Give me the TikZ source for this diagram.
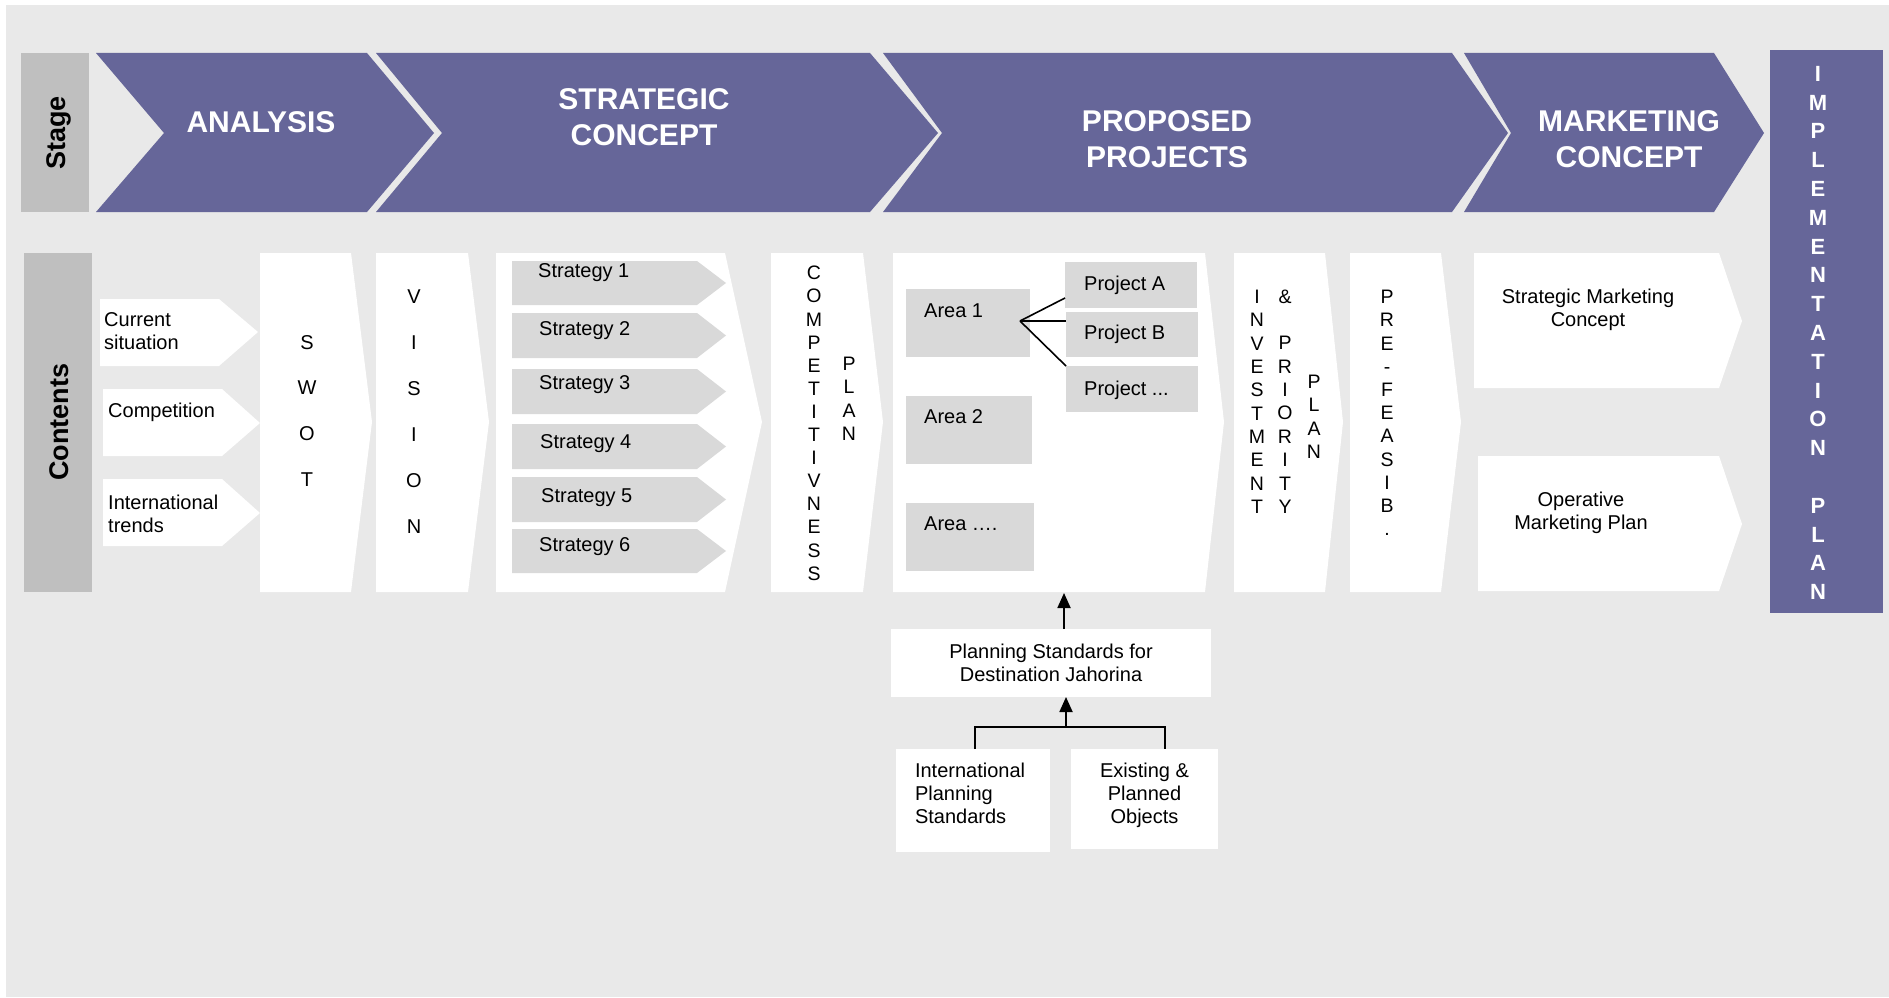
\documentclass[tikz,border=0pt]{standalone}
\usepackage{fontspec}
\setmainfont{Liberation Sans}
\usetikzlibrary{arrows.meta}
\definecolor{bggray}{RGB}{233,233,233}
\definecolor{hdgray}{RGB}{191,191,191}
\definecolor{purp}{RGB}{102,102,153}
\definecolor{ltgray}{RGB}{217,217,217}
\newcommand{\myfs}[2]{\fontsize{#1}{#2}\selectfont}
\begin{document}
\begin{tikzpicture}[x=1pt,y=-1pt,
  box/.style={inner sep=0pt, outer sep=0pt, anchor=north west},
  gbox/.style={box, fill=ltgray},
  wbox/.style={box, fill=white, font=\myfs{20}{23}},
  txt/.style={inner sep=0pt, font=\myfs{20}{23}, align=left, anchor=west},
  ctxt/.style={inner sep=0pt, font=\myfs{20}{23}, align=center},
  title/.style={inner sep=0pt, text=white, font=\bfseries\myfs{30}{36}, align=center},
  col/.style={inner sep=0pt, anchor=north, align=center},
  side/.style={inner sep=0pt, rotate=90, font=\bfseries\myfs{27}{30}},
  conn/.style={line width=1.6pt},
  arr/.style={line width=1.8pt, -{Triangle[length=15pt,width=13pt]}}
]
\useasboundingbox (0,0) rectangle (1889,998);
\fill[white] (0,0) rectangle (1889,998);
\fill[bggray] (6,5) rectangle (1889,997);

% ---- Stage row ----
\fill[hdgray] (21,53) rectangle (89,212);
\node[side] (stage) at (58.5,133) {Stage};
\fill[purp] (96,53) -- (367,53) -- (434,133) -- (367,212) -- (96,212) -- (164,133) -- cycle;
\fill[purp] (376,53) -- (870,53) -- (938,133) -- (870,212) -- (376,212) -- (442,133) -- cycle;
\fill[purp] (883,53) -- (1452,53) -- (1508,133) -- (1452,212) -- (883,212) -- (942,133) -- cycle;
\fill[purp] (1464,53) -- (1714,53) -- (1764,133) -- (1714,212) -- (1464,212) -- (1511,133) -- cycle;
\node[title] (tana) at (261,122) {ANALYSIS};
\node[title] (tstr) at (644,117) {STRATEGIC\\CONCEPT};
\node[title] (tpro) at (1167,139.5) {PROPOSED\\PROJECTS};
\node[title] (tmar) at (1629,139.5) {MARKETING\\CONCEPT};

% ---- Implementation plan ----
\fill[purp] (1770,50) rectangle (1883,613);
\node[col, text=white, font=\bfseries\myfs{22}{28.8}] (impl) at (1818,66)
  {I\\M\\P\\L\\E\\M\\E\\N\\T\\A\\T\\I\\O\\N\\\mbox{}\\P\\L\\A\\N};

% ---- Contents row ----
\fill[hdgray] (24,253) rectangle (92,592);
\node[side] (contents) at (59,422) {Contents};

% inputs
\fill[white] (100,299) -- (219,299) -- (258,332) -- (219,366) -- (100,366) -- cycle;
\fill[white] (103,389) -- (222,389) -- (260,423) -- (222,456) -- (103,456) -- cycle;
\fill[white] (103,479) -- (222,479) -- (260,513) -- (222,546) -- (103,546) -- cycle;
\node[txt] (cur) at (104,331) {Current\\situation};
\node[txt] (comp) at (108,412) {Competition};
\node[txt] (intl) at (108,513.5) {International\\trends};

% SWOT
\fill[white] (260,253) -- (351,253) -- (372,422) -- (351,592) -- (260,592) -- cycle;
\node[col, font=\myfs{20}{45.7}] (swot) at (307,335) {S\\W\\O\\T};

% VISION
\fill[white] (376,253) -- (468,253) -- (489,422) -- (468,592) -- (376,592) -- cycle;
\node[col, font=\myfs{20}{46}] (vision) at (414,290) {V\\I\\S\\I\\O\\N};

% Strategies
\fill[white] (496,253) -- (725,253) -- (762,422) -- (725,592) -- (496,592) -- cycle;
\foreach \t/\b in {261/305,313/358,369/414,424/469,477/522,529/573}{
  \fill[ltgray] (512,\t) -- (697,\t) -- (726,{(\t+\b)/2}) -- (697,\b) -- (512,\b) -- cycle;
}
\node[txt] (s1) at (538,273) {Strategy 1};
\node[txt] (s2) at (539,331) {Strategy 2};
\node[txt] (s3) at (539,385) {Strategy 3};
\node[txt] (s4) at (540,444) {Strategy 4};
\node[txt] (s5) at (541,498) {Strategy 5};
\node[txt] (s6) at (539,547) {Strategy 6};

% Competitiveness plan
\fill[white] (771,253) -- (863,253) -- (883,422) -- (863,592) -- (771,592) -- cycle;
\node[col, font=\myfs{19.5}{23.1}] (compet) at (814,266) {C\\O\\M\\P\\E\\T\\I\\T\\I\\V\\N\\E\\S\\S};
\node[col, font=\myfs{19.5}{23.2}] (plan1) at (849,357) {P\\L\\A\\N};

% Proposed projects
\fill[white] (893,253) -- (1205,253) -- (1224,422) -- (1205,592) -- (893,592) -- cycle;
\node[gbox, minimum width=124pt, minimum height=68pt] (a1) at (906,289) {};
\node[gbox, minimum width=126pt, minimum height=68pt] (a2) at (906,396) {};
\node[gbox, minimum width=128pt, minimum height=68pt] (a3) at (906,503) {};
\node[gbox, minimum width=132pt, minimum height=46pt] (pA) at (1065,262) {};
\node[gbox, minimum width=132pt, minimum height=45pt] (pB) at (1066,312) {};
\node[gbox, minimum width=132pt, minimum height=46pt] (pC) at (1066,366) {};
\node[txt] (a1t) at (924,311) {Area 1};
\node[txt] (a2t) at (924,417) {Area 2};
\node[txt] (a3t) at (924,524) {Area ….};
\node[txt] (pAt) at (1084,285) {Project A};
\node[txt] (pBt) at (1084,334) {Project B};
\node[txt] (pCt) at (1084,390) {Project ...};
\coordinate (fork) at ([xshift=-10pt,yshift=2pt]a1.east);
\draw[conn] (fork) -- ([yshift=-13pt]pA.west);
\draw[conn] (fork) -- ([yshift=13.5pt]pB.west);
\draw[conn] (fork) -- (pC.north west);

% Investment & priority plan
\fill[white] (1234,253) -- (1325,253) -- (1343,422) -- (1325,592) -- (1234,592) -- cycle;
\node[col, font=\myfs{19.5}{23.3}] (invest) at (1257,290) {I\\N\\V\\E\\S\\T\\M\\E\\N\\T};
\node[col, font=\myfs{19.5}{23.3}] (amp) at (1285,290) {\&};
\node[col, font=\myfs{19.5}{23.4}] (prio) at (1285,336) {P\\R\\I\\O\\R\\I\\T\\Y};
\node[col, font=\myfs{19.5}{23.3}] (plan2) at (1314,375) {P\\L\\A\\N};

% Pre-feasibility
\fill[white] (1350,253) -- (1441,253) -- (1461,422) -- (1441,592) -- (1350,592) -- cycle;
\node[col, font=\myfs{19.5}{23.2}] (pref) at (1387,290) {P\\R\\E\\-\\F\\E\\A\\S\\I\\B\\.};

% Marketing
\fill[white] (1474,253) -- (1719,253) -- (1742,321) -- (1719,388) -- (1474,388) -- cycle;
\fill[white] (1478,456) -- (1719,456) -- (1742,524) -- (1719,591) -- (1478,591) -- cycle;
\node[ctxt] (smc) at (1588,310) {Strategic Marketing\\Concept};
\node[ctxt] (omp) at (1581,513) {Operative\\Marketing Plan};

% ---- Planning standards ----
\node[wbox, minimum width=320pt, minimum height=68pt, align=center] (ps) at (891,629)
  {Planning Standards for\\Destination Jahorina};
\node[wbox, minimum width=154pt, minimum height=103pt, text width=116pt, align=left, text depth=60pt] (ips) at (896,749)
  {International\\Planning\\Standards};
\node[wbox, minimum width=147pt, minimum height=100pt, align=center, text depth=11pt] (eps) at (1071,749)
  {Existing \&\\Planned\\Objects};
\coordinate (ppbot) at (1064,593);
\coordinate (bar) at (1066,727);
\draw[arr] ([xshift=13pt]ps.north) -- (ppbot);
\draw[conn] ([xshift=2pt]ips.north) |- (bar) -| ([xshift=20.5pt]eps.north);
\draw[arr] (bar) -- ([xshift=15pt]ps.south);
\end{tikzpicture}
\end{document}
